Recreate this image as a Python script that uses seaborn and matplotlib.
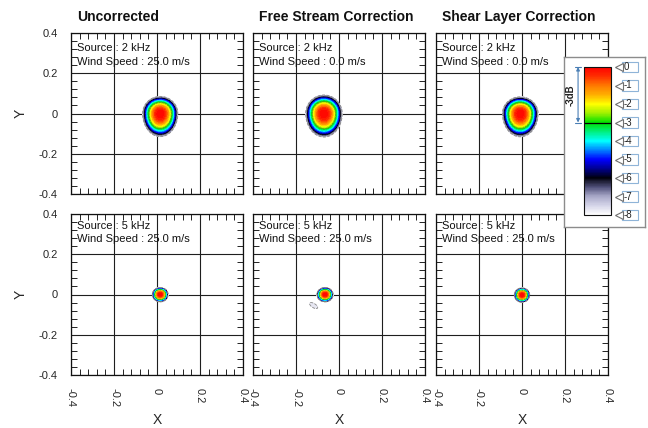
import numpy as np
import matplotlib
matplotlib.use("Agg")
import matplotlib.pyplot as plt
import seaborn as sns
from matplotlib.colors import LinearSegmentedColormap, Normalize
from matplotlib.cm import ScalarMappable
from matplotlib.patches import Rectangle
from matplotlib.transforms import blended_transform_factory

# ---------------- data ----------------
col_titles = ["Uncorrected", "Free Stream Correction", "Shear Layer Correction"]
source_freq = ["2 kHz", "2 kHz", "2 kHz", "5 kHz", "5 kHz", "5 kHz"]
wind_speed = [25.0, 0.0, 0.0, 25.0, 25.0, 25.0]
peak_x = [0.015, -0.070, -0.008, 0.015, -0.065, 0.000]
peak_y = [0.000, 0.000, 0.000, 0.000, 0.000, -0.002]
radius_x = [0.082, 0.085, 0.083, 0.037, 0.038, 0.036]
radius_up = [0.085, 0.092, 0.083, 0.035, 0.035, 0.035]
radius_down = [0.115, 0.117, 0.116, 0.037, 0.037, 0.037]
beam_exponent = 2.2
# weak side-lobe (only in the 5 kHz free-stream map)
ghost_panel = 4
ghost_xy = (-0.118, -0.055)
ghost_peak = -7.6
ghost_axes = (0.022, 0.010)
ghost_angle = -35.0
db_ticks = [0, -1, -2, -3, -4, -5, -6, -7, -8]
axis_ticks = [-0.4, -0.2, 0, 0.2, 0.4]
axis_ticklabels = ["-0.4", "-0.2", "0", "0.2", "0.4"]

# colour scale (dB -> colour)
cmap_db = [-8, -7.5, -7, -6.5, -6, -5.5, -5, -4.5, -4, -3, -2.5, -2, -1.5, -1, -0.5, 0]
cmap_col = ["#ffffff", "#d4d4e8", "#a8a8c8", "#50507a", "#00000c", "#000090", "#0000ff",
            "#0080ff", "#00ffff", "#00e000", "#9cf000", "#ffff00", "#ffb000", "#ff7a00",
            "#ff3000", "#ff0000"]

# ---------------- style ----------------
sns.set_theme(style="white")
plt.rcParams["font.family"] = ["Liberation Sans", "DejaVu Sans"]

W, H = 648, 428
fig = plt.figure(figsize=(W / 100, H / 100), dpi=100)
fig.patch.set_facecolor("white")

cmap = LinearSegmentedColormap.from_list(
    "beam", [((v + 8) / 8, c) for v, c in zip(cmap_db, cmap_col)])
norm = Normalize(vmin=-8, vmax=0)

xg = np.linspace(-0.4, 0.4, 481)
yg = np.linspace(-0.4, 0.4, 481)
X, Y = np.meshgrid(xg, yg)

col_left = [71, 253, 436]
row_top = [33, 214]
ax_w, ax_h = 172, 161

levels = np.linspace(-8, 0.001, 41)

for i in range(6):
    r, c = divmod(i, 3)
    left = col_left[c]
    top = row_top[r]
    ax = fig.add_axes([left / W, 1 - (top + ax_h) / H, ax_w / W, ax_h / H])
    ax.set_facecolor("white")

    dx = X - peak_x[i]
    dy = Y - peak_y[i]
    ry = np.where(dy > 0, radius_up[i], radius_down[i])
    rho = np.sqrt((dx / radius_x[i]) ** 2 + (dy / ry) ** 2)
    L = -8.0 * rho ** beam_exponent
    if i == ghost_panel:
        t = np.deg2rad(ghost_angle)
        gx = X - ghost_xy[0]
        gy = Y - ghost_xy[1]
        u = gx * np.cos(t) + gy * np.sin(t)
        v = -gx * np.sin(t) + gy * np.cos(t)
        G = ghost_peak - (ghost_peak + 8) * ((u / ghost_axes[0]) ** 2 + (v / ghost_axes[1]) ** 2)
        L = np.maximum(L, G)

    ax.contourf(X, Y, L, levels=levels, cmap=cmap, norm=norm, zorder=2)
    ax.contour(X, Y, L, levels=[-8, -7.3], colors="#8a8a8a", linewidths=0.6, zorder=3)
    ax.contour(X, Y, L, levels=[-3], colors="#6a6a40", linewidths=0.4, zorder=3)

    ax.set_xlim(-0.4, 0.4)
    ax.set_ylim(-0.4, 0.4)
    ax.set_xticks(axis_ticks)
    ax.set_yticks(axis_ticks)
    ax.set_xticks(np.arange(-0.4, 0.401, 0.04), minor=True)
    ax.set_yticks(np.arange(-0.4, 0.401, 0.04), minor=True)
    ax.grid(True, which="major", color="#1e1e1e", linewidth=0.8, zorder=1)
    ax.set_axisbelow(True)
    ax.tick_params(which="both", direction="in", top=True, right=True,
                   bottom=True, left=True, length=4, width=0.7, color="#222222",
                   labelsize=8, pad=9.4)
    for sp in ax.spines.values():
        sp.set_color("#111111")
        sp.set_linewidth(0.9)

    if r == 1:
        ax.set_xticklabels(axis_ticklabels, rotation=-90, va="top", ha="center")
        ax.set_xlabel("X", fontsize=10, va="center")
        ax.xaxis.set_label_coords(0.5, -0.28)
    else:
        ax.set_xticklabels([])
    if c == 0:
        ax.set_yticklabels(axis_ticklabels)
        ax.set_ylabel("Y", fontsize=10, va="center")
        ax.yaxis.set_label_coords(-0.29, 0.5)
    else:
        ax.set_yticklabels([])

    if r == 0:
        ax.set_title(col_titles[c], loc="left", x=0.035, pad=8.9,
                     fontsize=10, fontweight="bold", color="#111111")
        y1, y2 = 1 - 15 / ax_h, 1 - 29 / ax_h
    else:
        y1, y2 = 1 - 12 / ax_h, 1 - 25 / ax_h
    ax.text(0.035, y1, f"Source : {source_freq[i]}", transform=ax.transAxes,
            fontsize=8, va="center", ha="left", color="#111111", zorder=5)
    ax.text(0.035, y2, f"Wind Speed : {wind_speed[i]:.1f} m/s", transform=ax.transAxes,
            fontsize=8, va="center", ha="left", color="#111111", zorder=5)

# ---------------- colour-bar panel ----------------
box = fig.add_axes([564 / W, 1 - 227 / H, 81 / W, 170 / H], zorder=10)
box.set_facecolor("white")
box.set_xticks([])
box.set_yticks([])
for sp in box.spines.values():
    sp.set_color("#8c8c8c")
    sp.set_linewidth(1.0)

cax = fig.add_axes([584 / W, 1 - 215 / H, 27 / W, 148 / H], zorder=11)
cb = fig.colorbar(ScalarMappable(norm=norm, cmap=cmap), cax=cax)
cb.outline.set_edgecolor("#111111")
cb.outline.set_linewidth(0.8)
cax.set_yticks([])
cax.axhline(-3, color="black", linewidth=0.9)

bt = blended_transform_factory(cax.transAxes, cax.transData)
for lev in db_ticks:
    cax.plot([1.30], [lev], marker="<", markersize=5.5, mfc="white", mec="#707070",
             mew=0.8, transform=bt, clip_on=False)
    cax.add_patch(Rectangle((1.41, lev - 0.29), 0.59, 0.58, transform=bt,
                            facecolor="white", edgecolor="#8fb4d8", linewidth=0.8,
                            clip_on=False))
    cax.text(1.46, lev, f"{lev}", transform=bt, fontsize=7, ha="left",
             va="center", color="#222222", clip_on=False)

cax.annotate("", xy=(-0.22, 0), xytext=(-0.22, -3), xycoords=bt, textcoords=bt,
             arrowprops=dict(arrowstyle="<|-|>", color="#4a7fb5", lw=0.8,
                             mutation_scale=5, shrinkA=0, shrinkB=0))
for lev in (0, -3):
    cax.plot([-0.32, -0.12], [lev, lev], color="#4a7fb5", lw=0.8, transform=bt,
             clip_on=False)
cax.text(-0.48, -1.5, "-3dB", transform=bt, rotation=90, fontsize=7,
         fontweight="bold", ha="center", va="center", color="#222222")

fig.savefig("out.png", dpi=100, facecolor="white")
